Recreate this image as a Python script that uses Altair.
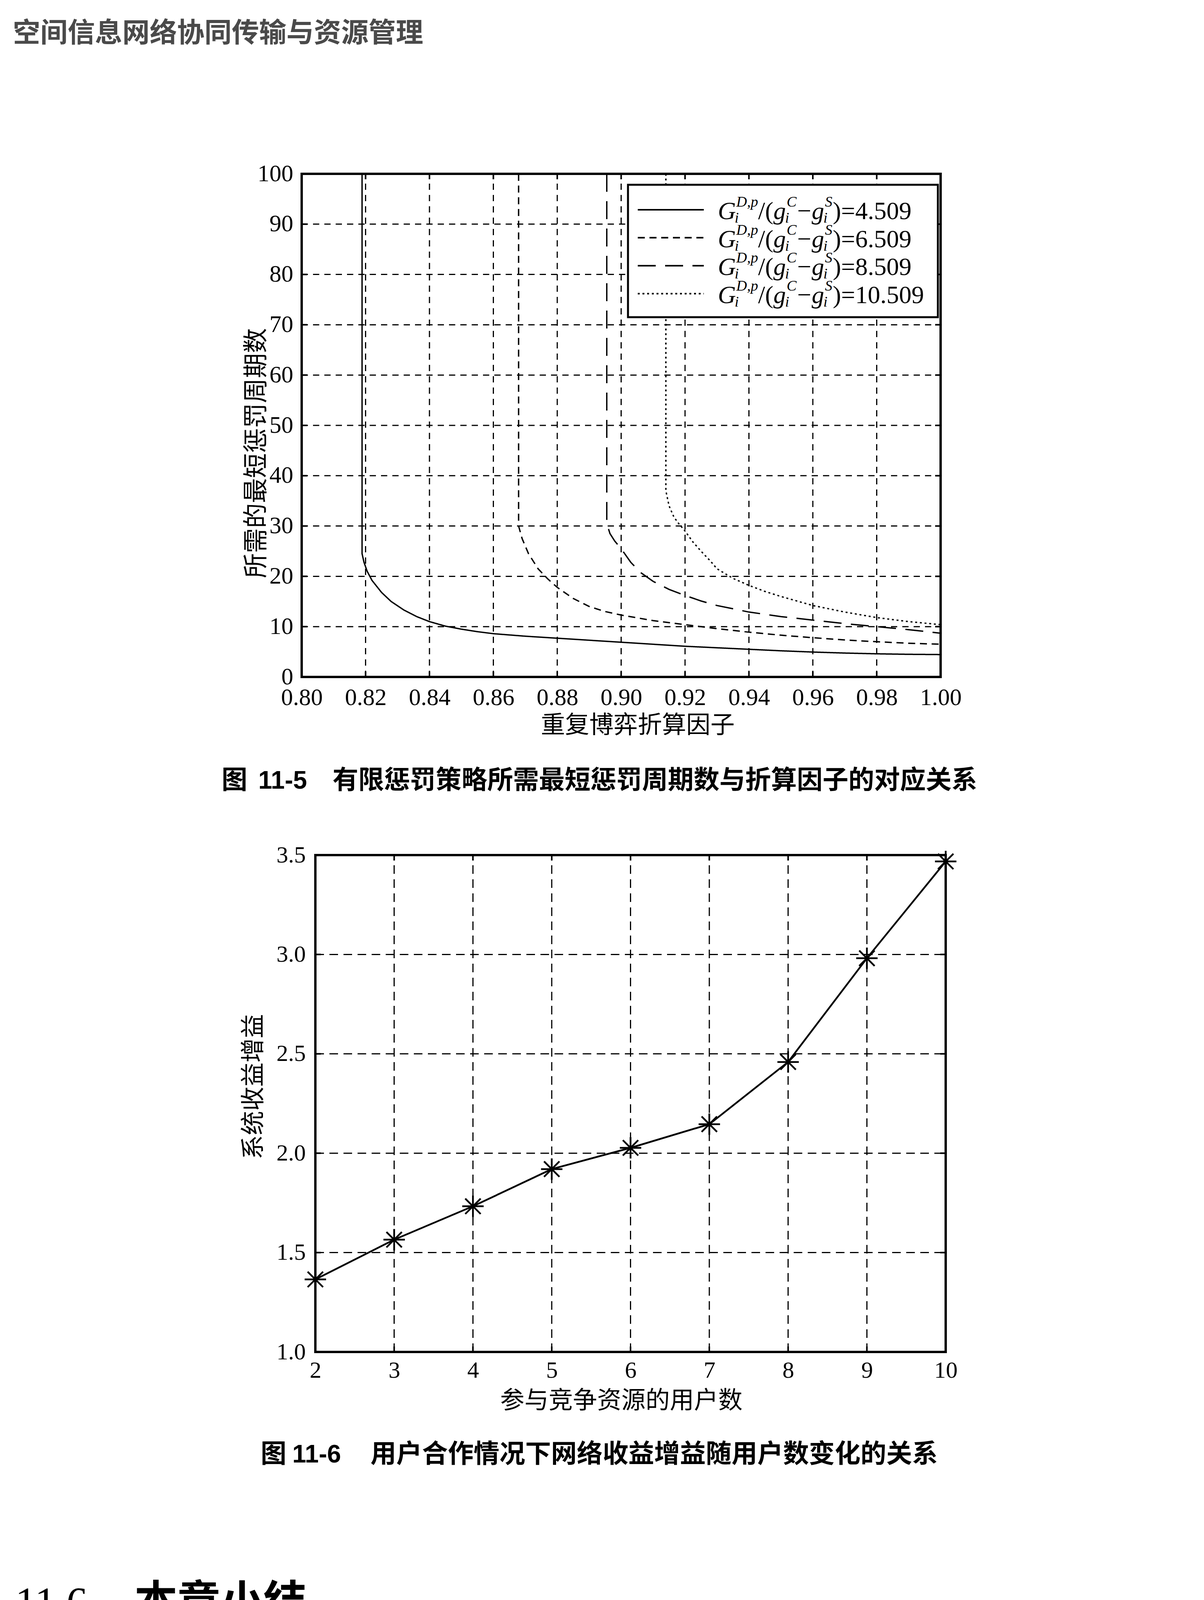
import altair as alt
import pandas as pd

# ---------------- text content ----------------
HEADER = "空间信息网络协同传输与资源管理"
FIG1_X_TITLE = "重复博弈折算因子"
FIG1_Y_TITLE = "所需的最短惩罚周期数"
FIG1_NO = "11-5"
FIG1_CAPTION = "有限惩罚策略所需最短惩罚周期数与折算因子的对应关系"
FIG2_X_TITLE = "参与竞争资源的用户数"
FIG2_Y_TITLE = "系统收益增益"
FIG2_NO = "11-6"
FIG2_CAPTION = "用户合作情况下网络收益增益随用户数变化的关系"
SEC_NO = "11.6"
SEC_TITLE = "本章小结"
PARA_LINES = [
    "本章采用博弈论对空间信息网络资源分配过程中的用户资源竞争行为进行",
    "理论分析和建模，基于网络运控具有的长期性特点，设计资源分配重复博弈架",
    "构，使自私且理性的用户建立并保持合作状态，极大地提升了网络整体收益。",
]
PAGE_NO = "222"

# ---------------- figure 11-5 data ----------------
delta_ticks = [0.80, 0.82, 0.84, 0.86, 0.88, 0.90, 0.92, 0.94, 0.96, 0.98, 1.00]
period_ticks = [0, 10, 20, 30, 40, 50, 60, 70, 80, 90, 100]
ratio_labels = ["4.509", "6.509", "8.509", "10.509"]

d_4509 = [0.8189, 0.8189, 0.8195, 0.8205, 0.8220, 0.8250, 0.8280, 0.8320, 0.8360, 0.8400,
          0.8450, 0.8500, 0.8550, 0.8600, 0.8700, 0.8800, 0.8900, 0.9000, 0.9100, 0.9200,
          0.9300, 0.9400, 0.9500, 0.9600, 0.9700, 0.9800, 0.9900, 1.0000]
p_4509 = [100, 24.5, 22.8, 21.0, 19.2, 16.8, 15.0, 13.3, 12.0, 11.0,
          10.1, 9.5, 9.0, 8.6, 8.1, 7.7, 7.3, 6.9, 6.5, 6.1,
          5.8, 5.5, 5.2, 4.95, 4.75, 4.6, 4.5, 4.45]

d_6509 = [0.8679, 0.8679, 0.8690, 0.8710, 0.8740, 0.8770, 0.8800, 0.8850, 0.8900, 0.8950,
          0.9000, 0.9100, 0.9200, 0.9300, 0.9400, 0.9500, 0.9600, 0.9700, 0.9800, 0.9900, 1.0000]
p_6509 = [100, 30.0, 27.5, 24.5, 21.5, 19.5, 17.8, 15.6, 14.0, 13.0,
          12.3, 11.2, 10.4, 9.6, 8.9, 8.3, 7.8, 7.35, 7.0, 6.7, 6.5]

d_8509 = [0.8955, 0.8955, 0.8965, 0.8980, 0.9000, 0.9030, 0.9060, 0.9100, 0.9150, 0.9200,
          0.9250, 0.9300, 0.9400, 0.9500, 0.9600, 0.9700, 0.9800, 0.9900, 1.0000]
p_8509 = [100, 30.5, 28.5, 27.0, 25.5, 22.8, 20.8, 19.0, 17.4, 16.2,
          15.1, 14.2, 12.9, 12.0, 11.3, 10.6, 10.0, 9.4, 8.7]

d_10509 = [0.9140, 0.9140, 0.9150, 0.9165, 0.9180, 0.9200, 0.9225, 0.9250, 0.9280, 0.9300,
           0.9350, 0.9400, 0.9450, 0.9500, 0.9600, 0.9700, 0.9800, 0.9900, 1.0000]
p_10509 = [100, 37.0, 34.0, 31.8, 30.5, 29.0, 26.8, 25.0, 23.0, 21.5,
           19.6, 18.2, 17.0, 16.0, 14.2, 12.9, 11.8, 11.0, 10.4]

# ---------------- figure 11-6 data ----------------
users = [2, 3, 4, 5, 6, 7, 8, 9, 10]
gain = [1.365, 1.565, 1.733, 1.920, 2.027, 2.146, 2.459, 2.981, 3.468]
user_ticks = [2, 3, 4, 5, 6, 7, 8, 9, 10]
gain_ticks = [1.0, 1.5, 2.0, 2.5, 3.0, 3.5]

# ---------------- layout ----------------
W, H = 3065, 5105
CJK = "Noto Sans CJK SC"
SERIF = "Liberation Serif"
SANS = "Liberation Sans"

P1 = dict(x0=764, x1=2399, y0=1725, y1=437)
P2 = dict(x0=799, x1=2412, y0=3453, y1=2181)
TICK_PX = 14

dash_scale = alt.Scale(domain=ratio_labels, range=[[1, 0], [18, 12], [46, 24], [5, 7]])

ax_common = dict(domain=False, ticks=False, tickSize=0, grid=False, labelFont=SERIF,
                 labelColor="black", labelFlush=False, labelOverlap=False, title=None)


def panel(xdom, ydom, P, xticks, yticks, xfmt, yfmt, lsize, xpad, ypad, gdash):
    sx = alt.Scale(domain=xdom, range=[P["x0"], P["x1"]], nice=False, zero=False)
    sy = alt.Scale(domain=ydom, range=[P["y0"], P["y1"]], nice=False, zero=False)
    axx = alt.Axis(orient="bottom", values=xticks, format=xfmt, labelFontSize=lsize,
                   labelPadding=xpad, offset=P["y0"] - H, **ax_common)
    axy = alt.Axis(orient="left", values=yticks, format=yfmt, labelFontSize=lsize,
                   labelPadding=ypad, offset=-P["x0"], labelBaseline="middle", **ax_common)

    def X(f):
        return alt.X(f, scale=sx, axis=axx)

    def Y(f):
        return alt.Y(f, scale=sy, axis=axy)

    vg = pd.DataFrame({"x": xticks, "ya": ydom[0], "yb": ydom[1]})
    hg = pd.DataFrame({"y": yticks, "xa": xdom[0], "xb": xdom[1]})
    grid_v = alt.Chart(vg).mark_rule(color="black", strokeWidth=3, strokeDash=gdash).encode(
        x=X("x:Q"), y=Y("ya:Q"), y2="yb:Q")
    grid_h = alt.Chart(hg).mark_rule(color="black", strokeWidth=3, strokeDash=gdash).encode(
        x=X("xa:Q"), x2="xb:Q", y=Y("y:Q"))

    tx = TICK_PX * (xdom[1] - xdom[0]) / (P["x1"] - P["x0"])
    ty = TICK_PX * (ydom[1] - ydom[0]) / (P["y0"] - P["y1"])
    rows = []
    for v in xticks:
        rows.append((v, v, ydom[0], ydom[0] + ty))
        rows.append((v, v, ydom[1] - ty, ydom[1]))
    for v in yticks:
        rows.append((xdom[0], xdom[0] + tx, v, v))
        rows.append((xdom[1] - tx, xdom[1], v, v))
    tk = pd.DataFrame(rows, columns=["xa", "xb", "ya", "yb"])
    ticks = alt.Chart(tk).mark_rule(color="black", strokeWidth=4).encode(
        x=X("xa:Q"), x2="xb:Q", y=Y("ya:Q"), y2="yb:Q")

    fr = pd.DataFrame({"xa": [xdom[0]], "xb": [xdom[1]], "ya": [ydom[0]], "yb": [ydom[1]]})
    frame = alt.Chart(fr).mark_rect(fillOpacity=0, stroke="black", strokeWidth=6).encode(
        x=X("xa:Q"), x2="xb:Q", y=Y("ya:Q"), y2="yb:Q")
    return X, Y, [grid_v, grid_h, ticks, frame]


# ---- figure 11-5 ----
X1, Y1, base1 = panel([0.8, 1.0], [0, 100], P1, delta_ticks, period_ticks, ".2f", "d",
                      61, 23, 22, [16, 13])
rows = []
for lab, ds, ps in zip(ratio_labels, [d_4509, d_6509, d_8509, d_10509],
                       [p_4509, p_6509, p_8509, p_10509]):
    for i, (d, p) in enumerate(zip(ds, ps)):
        rows.append({"series": lab, "idx": i, "delta": d, "period": p})
curves_df = pd.DataFrame(rows)
curves = alt.Chart(curves_df).mark_line(color="black", strokeWidth=3.5).encode(
    x=X1("delta:Q"), y=Y1("period:Q"),
    strokeDash=alt.StrokeDash("series:N", scale=dash_scale, legend=None),
    detail="series:N", order="idx:Q")
c1 = alt.layer(base1[0], base1[1], curves, base1[2], base1[3])

# ---- figure 11-6 ----
X2, Y2, base2 = panel([2, 10], [1.0, 3.5], P2, user_ticks, gain_ticks, "d", ".1f",
                      60, 18, 25, [22, 14])
gain_df = pd.DataFrame({"users": users, "gain": gain})
ASTERISK = "M-1,0L1,0M0,-1L0,1M-0.72,-0.72L0.72,0.72M-0.72,0.72L0.72,-0.72"
line2 = alt.Chart(gain_df).mark_line(color="black", strokeWidth=4.5).encode(
    x=X2("users:Q"), y=Y2("gain:Q"))
pts2 = alt.Chart(gain_df).mark_point(shape=ASTERISK, size=3000, filled=False, color="black",
                                     strokeWidth=4.5, opacity=1).encode(
    x=X2("users:Q"), y=Y2("gain:Q"))
c2 = alt.layer(base2[0], base2[1], line2, pts2, base2[2], base2[3])


# ---------------- page texts and legend ----------------
def text_mark(s, x, y, size, font=CJK, weight="normal", align="left",
              baseline="alphabetic", color="black", angle=0, style="normal"):
    kw = dict(font=font, fontSize=size, fontWeight=weight, align=align,
              baseline=baseline, color=color, fontStyle=style)
    if angle:
        kw["angle"] = angle
    return alt.Chart(pd.DataFrame({"t": [s]})).mark_text(**kw).encode(
        text="t:N", x=alt.value(x), y=alt.value(y))


page = []
page.append(text_mark(HEADER, 25, 100, 70, weight="bold", color="#4a4a4a"))
page.append(text_mark(FIG1_X_TITLE, 1624, 1869, 62, align="center"))
page.append(text_mark(FIG1_Y_TITLE, 649, 1152, 64, align="center", baseline="middle", angle=270))
page.append(text_mark("图", 559, 2011, 66, weight="bold"))
page.append(text_mark(FIG1_NO, 653, 2011, 64, font=SANS, weight="bold"))
page.append(text_mark(FIG1_CAPTION, 843, 2011, 66, weight="bold"))
page.append(text_mark(FIG2_X_TITLE, 1582, 3598, 62, align="center"))
page.append(text_mark(FIG2_Y_TITLE, 642, 2774, 62, align="center", baseline="middle", angle=270))
page.append(text_mark("图", 659, 3736, 66, weight="bold"))
page.append(text_mark(FIG2_NO, 740, 3736, 64, font=SANS, weight="bold"))
page.append(text_mark(FIG2_CAPTION, 940, 3736, 66, weight="bold"))
page.append(text_mark(SEC_NO, 31, 4130, 108, font=SERIF))
page.append(text_mark(SEC_TITLE, 336, 4130, 110, weight="bold"))
para_df = pd.DataFrame({"t": PARA_LINES, "px": [208, 31, 31], "py": [4401, 4558, 4713]})
page.append(alt.Chart(para_df).mark_text(font=CJK, fontSize=88, align="left",
                                         baseline="alphabetic", color="black").encode(
    text="t:N", x=alt.X("px:Q", scale=None, axis=None), y=alt.Y("py:Q", scale=None, axis=None)))
page.append(text_mark(PAGE_NO, 25, 5097, 66, font=SANS, color="#4a4a4a"))

# legend of figure 11-5
LEG = dict(x0=1599, x1=2392, y0=465, y1=804, row0=529, step=71.6, sx0=1624, sx1=1793)
legend_box = alt.Chart(pd.DataFrame({"a": [0]})).mark_rect(
    fill="white", stroke="black", strokeWidth=5).encode(
    x=alt.value(LEG["x0"]), x2=alt.value(LEG["x1"]), y=alt.value(LEG["y0"]), y2=alt.value(LEG["y1"]))
sample_df = pd.DataFrame({"series": ratio_labels,
                          "py": [LEG["row0"] + LEG["step"] * k for k in range(len(ratio_labels))]})
legend_lines = alt.Chart(sample_df).mark_rule(color="black", strokeWidth=4).encode(
    x=alt.value(LEG["sx0"]), x2=alt.value(LEG["sx1"]),
    y=alt.Y("py:Q", scale=None, axis=None),
    strokeDash=alt.StrokeDash("series:N", scale=dash_scale, legend=None))

pieces = [("G", 1829, 0, "mi"), ("D,p", 1876, -32, "si"), ("i", 1872, 9, "si"),
          ("/(", 1932, 0, "mn"), ("g", 1971, 0, "mi"), ("C", 2005, -32, "si"),
          ("i", 2001, 9, "si"), ("\u2212", 2032, 0, "mn"), ("g", 2069, 0, "mi"),
          ("S", 2103, -32, "si"), ("i", 2099, 9, "si"), (")=", 2123, 0, "mn")]
prow = []
for k, lab in enumerate(ratio_labels):
    base_y = LEG["row0"] + LEG["step"] * k + 24
    for t, px, dy, kind in pieces:
        prow.append({"t": t + lab if t == ")=" else t, "px": px, "py": base_y + dy, "kind": kind})
pdf = pd.DataFrame(prow)
styles = {"mi": dict(fontSize=64, fontStyle="italic"),
          "mn": dict(fontSize=64, fontStyle="normal"),
          "si": dict(fontSize=38, fontStyle="italic")}
legend_texts = []
for kind, st in styles.items():
    legend_texts.append(alt.Chart(pdf[pdf.kind == kind]).mark_text(
        font=SERIF, align="left", baseline="alphabetic", color="black", **st).encode(
        text="t:N", x=alt.X("px:Q", scale=None, axis=None), y=alt.Y("py:Q", scale=None, axis=None)))

page_layer = alt.layer(legend_box, legend_lines, *legend_texts, *page)

chart = alt.layer(c1, c2, page_layer).resolve_scale(
    x="independent", y="independent").properties(
    width=W, height=H, padding=0, background="white",
    autosize=alt.AutoSizeParams(type="none")).configure_view(strokeWidth=0)

chart.save("out.html", embed_options={"renderer": "svg", "actions": False})
